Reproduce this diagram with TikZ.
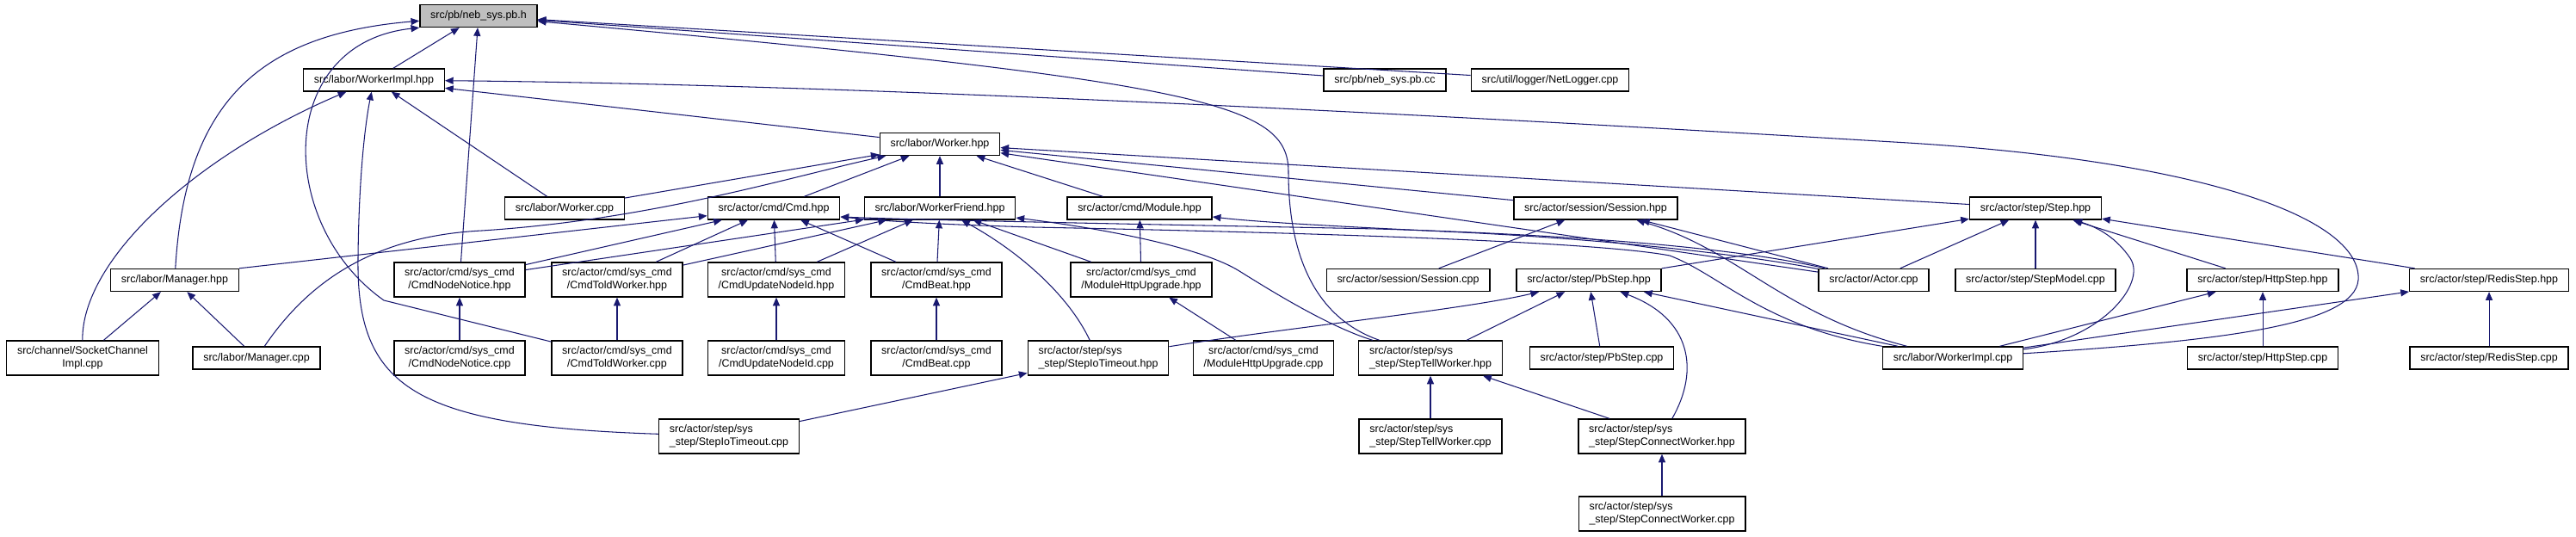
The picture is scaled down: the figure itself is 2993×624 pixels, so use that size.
\documentclass[tikz,border=0pt]{standalone}
\usepackage{fontspec}
\setmainfont{Liberation Sans}
\usetikzlibrary{arrows.meta}
\definecolor{edgeblue}{HTML}{191970}

\begin{document}
\begin{tikzpicture}[x=0.02cm, y=-0.02cm,
    file/.style={draw, line width=0.8pt, fill=white, rectangle, inner xsep=7pt, inner ysep=1pt, minimum height=0.52cm, align=center, font=\fontsize{7.1}{8.4}\selectfont},
    file2/.style={file, minimum height=0.8cm},
    fileL/.style={file2, align=left},
    dep/.style={-{Triangle[length=5.5pt,width=4.6pt]}, draw=edgeblue, line width=0.6pt}
]
\useasboundingbox (0,0) rectangle (2993,624);

\node[file, fill=gray!50] (pbh) at (556,18.5) {src/pb/neb\_sys.pb.h};
\node[file] (wih) at (434.5,93) {src/labor/WorkerImpl.hpp};
\node[file] (pbcc) at (1609,93) {src/pb/neb\_sys.pb.cc};
\node[file] (netlog) at (1801,93) {src/util/logger/NetLogger.cpp};
\node[file] (wh) at (1092,167.5) {src/labor/Worker.hpp};
\node[file] (wcpp) at (656,242) {src/labor/Worker.cpp};
\node[file] (cmdh) at (899,242) {src/actor/cmd/Cmd.hpp};
\node[file] (wfh) at (1092,242) {src/labor/WorkerFriend.hpp};
\node[file] (modh) at (1324,242) {src/actor/cmd/Module.hpp};
\node[file] (sesh) at (1854,242) {src/actor/session/Session.hpp};
\node[file] (steph) at (2365,242) {src/actor/step/Step.hpp};
\node[file] (mgrh) at (203,325.5) {src/labor/Manager.hpp};
\node[file2] (nnh) at (534,325) {src/actor/cmd/sys\_cmd\\/CmdNodeNotice.hpp};
\node[file2] (twh) at (717,325) {src/actor/cmd/sys\_cmd\\/CmdToldWorker.hpp};
\node[file2] (unh) at (902,325) {src/actor/cmd/sys\_cmd\\/CmdUpdateNodeId.hpp};
\node[file2] (beath) at (1088,325) {src/actor/cmd/sys\_cmd\\/CmdBeat.hpp};
\node[file2] (mhuh) at (1326,325) {src/actor/cmd/sys\_cmd\\/ModuleHttpUpgrade.hpp};
\node[file] (sescpp) at (1636,325.5) {src/actor/session/Session.cpp};
\node[file] (pbsh) at (1846,325.5) {src/actor/step/PbStep.hpp};
\node[file] (actor) at (2177,325.5) {src/actor/Actor.cpp};
\node[file] (stepmod) at (2365,325.5) {src/actor/step/StepModel.cpp};
\node[file] (httph) at (2629,325.5) {src/actor/step/HttpStep.hpp};
\node[file] (redish) at (2892,325.5) {src/actor/step/RedisStep.hpp};
\node[file2] (sock) at (96,416) {src/channel/SocketChannel\\Impl.cpp};
\node[file] (mgrcpp) at (298,416) {src/labor/Manager.cpp};
\node[file2] (nncpp) at (534,416) {src/actor/cmd/sys\_cmd\\/CmdNodeNotice.cpp};
\node[file2] (twcpp) at (717,416) {src/actor/cmd/sys\_cmd\\/CmdToldWorker.cpp};
\node[file2] (uncpp) at (902,416) {src/actor/cmd/sys\_cmd\\/CmdUpdateNodeId.cpp};
\node[file2] (beatcpp) at (1088,416) {src/actor/cmd/sys\_cmd\\/CmdBeat.cpp};
\node[fileL] (iotoh) at (1276,416) {src/actor/step/sys\\\_step/StepIoTimeout.hpp};
\node[file2] (mhucpp) at (1468,416) {src/actor/cmd/sys\_cmd\\/ModuleHttpUpgrade.cpp};
\node[fileL] (stwh) at (1662,416) {src/actor/step/sys\\\_step/StepTellWorker.hpp};
\node[file] (pbscpp) at (1861,416) {src/actor/step/PbStep.cpp};
\node[file] (wicpp) at (2269,416) {src/labor/WorkerImpl.cpp};
\node[file] (httpcpp) at (2629,416) {src/actor/step/HttpStep.cpp};
\node[file] (rediscpp) at (2892,416) {src/actor/step/RedisStep.cpp};
\node[fileL] (iotocpp) at (847,507) {src/actor/step/sys\\\_step/StepIoTimeout.cpp};
\node[fileL] (stwcpp) at (1662,507) {src/actor/step/sys\\\_step/StepTellWorker.cpp};
\node[fileL] (scwh) at (1931,507) {src/actor/step/sys\\\_step/StepConnectWorker.hpp};
\node[fileL] (scwcpp) at (1931,597) {src/actor/step/sys\\\_step/StepConnectWorker.cpp};

% neb_sys.pb.h
\draw[dep] (wih) -- (pbh);
\draw[dep] (nnh) -- (pbh);
\draw[dep] (mgrh) .. controls (215,120) and (300,40) .. (pbh);
\draw[dep] (twcpp) -- (446,349) .. controls (320,260) and (320,50) .. (pbh.south west);
\draw[dep] (pbcc) -- (pbh);
\draw[dep] (netlog) -- (pbh);
\draw[dep] (stwh) .. controls (1530,370) and (1497,300) .. (1497,200) .. controls (1497,120) and (1400,95) .. (pbh);

% WorkerImpl.hpp
\draw[dep] (sock) .. controls (95,300) and (230,180) .. (wih);
\draw[dep] (iotocpp) .. controls (480,495) and (414,450) .. (416,300) .. controls (417,200) and (425,140) .. (wih);
\draw[dep] (wcpp) -- (wih);
\draw[dep] (wh) -- (wih);
\draw[dep] (wicpp) .. controls (2600,395) and (2745,375) .. (2740,320) .. controls (2735,250) and (2550,185) .. (2200,165) .. controls (1700,135) and (1000,98) .. (wih);

% Worker.hpp
\draw[dep] (wcpp) -- (wh);
\draw[dep] (mgrcpp) .. controls (350,340) and (420,275) .. (560,268) .. controls (760,255) and (920,205) .. (wh);
\draw[dep] (cmdh) -- (wh);
\draw[dep] (wfh) -- (wh);
\draw[dep] (modh) -- (wh);
\draw[dep] (sesh) -- (wh);
\draw[dep] (steph) -- (wh);
\draw[dep] (actor) -- (wh);

% Cmd.hpp
\draw[dep] (mgrh.north east) -- (cmdh);
\draw[dep] (nnh) -- (cmdh);
\draw[dep] (twh) -- (cmdh);
\draw[dep] (unh) -- (cmdh);
\draw[dep] (beath) -- (cmdh);
\draw[dep] (actor) .. controls (2050,295) and (1900,275) .. (1600,266) .. controls (1300,260) and (1080,256) .. ([yshift=-0.2cm]cmdh.east);
\draw[dep] (wicpp.north west) .. controls (2050,380) and (2000,320) .. (1940,297) .. controls (1850,280) and (1500,270) .. (1200,264) .. controls (1100,261) and (1040,258) .. ([yshift=-0.2cm]cmdh.east);

% WorkerFriend.hpp
\draw[dep] (nnh) -- (wfh);
\draw[dep] (twh) -- (wfh);
\draw[dep] (unh) -- (wfh);
\draw[dep] (beath) -- (wfh);
\draw[dep] (iotoh) .. controls (1240,340) and (1180,290) .. (wfh);
\draw[dep] (mhuh) -- (wfh);
\draw[dep] (stwh) .. controls (1545,380) and (1480,340) .. (1440,315) .. controls (1400,290) and (1300,268) .. (wfh);

% Module.hpp, Session.hpp
\draw[dep] (mhuh) -- (modh);
\draw[dep] (actor) .. controls (2050,300) and (1900,280) .. (1700,270) .. controls (1550,263) and (1460,258) .. ([yshift=-0.2cm]modh.east);
\draw[dep] (sescpp) -- (sesh);
\draw[dep] (actor) -- (sesh);
\draw[dep] (wicpp) .. controls (2070,365) and (2020,290) .. (sesh);

% Step.hpp
\draw[dep] (pbsh) -- (steph);
\draw[dep] (actor) -- (steph);
\draw[dep] (stepmod) -- (steph);
\draw[dep] (wicpp) .. controls (2440,395) and (2495,330) .. (2475,300) .. controls (2460,278) and (2440,265) .. (steph);
\draw[dep] (httph) -- (steph);
\draw[dep] (redish) -- (steph);

% PbStep.hpp
\draw[dep] (iotoh) .. controls (1500,380) and (1700,360) .. (pbsh);
\draw[dep] (stwh) -- (pbsh);
\draw[dep] (pbscpp) -- (pbsh);
\draw[dep] (scwh) .. controls (1975,430) and (1965,370) .. (pbsh);
\draw[dep] (wicpp) -- (pbsh);

% the rest
\draw[dep] (iotocpp) -- (iotoh);
\draw[dep] (mhucpp) -- (mhuh);
\draw[dep] (stwcpp) -- (stwh);
\draw[dep] (scwh) -- (stwh);
\draw[dep] (scwcpp) -- (scwh);
\draw[dep] (nncpp) -- (nnh);
\draw[dep] (twcpp) -- (twh);
\draw[dep] (uncpp) -- (unh);
\draw[dep] (beatcpp) -- (beath);
\draw[dep] (sock) -- (mgrh);
\draw[dep] (mgrcpp) -- (mgrh);
\draw[dep] (httpcpp) -- (httph);
\draw[dep] (rediscpp) -- (redish);
\draw[dep] (wicpp) -- (httph);
\draw[dep] (wicpp) -- (redish);
\end{tikzpicture}
\end{document}
